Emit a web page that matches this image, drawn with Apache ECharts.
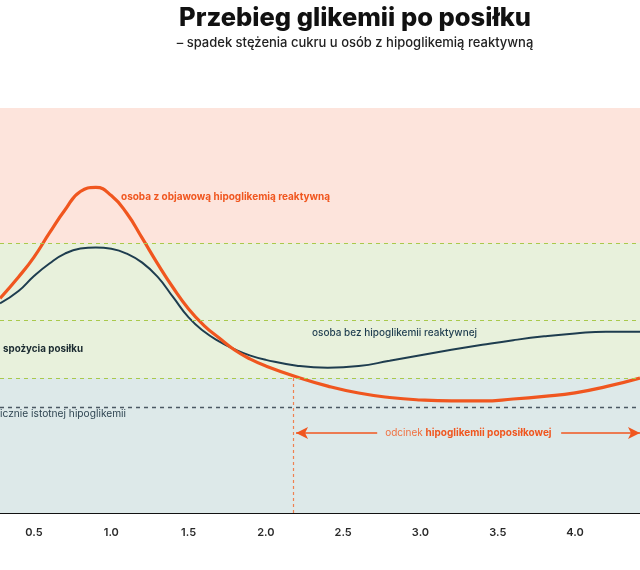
<!DOCTYPE html>
<html>
<head>
<meta charset="utf-8">
<script src="https://cdn.jsdelivr.net/npm/echarts@6/dist/echarts.min.js"></script>
<style>html,body{margin:0;padding:0;background:#fff}#c{width:640px;height:570px}</style>
</head>
<body>
<div id="c"></div>
<script>
// Time after meal (hours)
const timeHours       = [0.28, 0.4, 0.5, 0.6, 0.7, 0.8, 0.9, 1.0, 1.1, 1.2, 1.3, 1.4, 1.5, 1.6, 1.7, 1.8, 1.9, 2.0, 2.2, 2.4, 2.6, 2.8, 3.0, 3.2, 3.4, 3.6, 3.8, 4.0, 4.2, 4.42];
// Glucose (mg/dl) – person without reactive hypoglycaemia
const glucoseNormal   = [108.7, 115.1, 122.9, 129.4, 134.5, 137.1, 137.7, 137.0, 134.5, 129.8, 122.4, 111.9, 101.4, 94.1, 88.9, 84.8, 81.6, 79.4, 76.4, 75.3, 76.2, 78.9, 81.8, 84.6, 87.2, 89.6, 91.6, 93.1, 94.0, 94.0];
// Glucose (mg/dl) – person with symptomatic reactive hypoglycaemia
const glucoseReactive = [111.3, 122.4, 132.7, 145.2, 157.1, 166.7, 168.8, 164.6, 155.4, 142.5, 129.2, 116.8, 105.8, 97.2, 90.6, 84.4, 79.8, 76.2, 70.5, 65.8, 62.2, 59.9, 58.6, 58.1, 58.1, 59.1, 60.5, 62.3, 65.5, 70.0];
// x-axis tick labels
const tickValues = [0.5, 1.0, 1.5, 2.0, 2.5, 3.0, 3.5, 4.0];
// Zones and thresholds (mg/dl)
const zoneLimits = [0, 70, 140, 210];
const greenThresholds = [140, 100, 70];
const hypoThreshold = 55;
const hypoOnset = 2.18;
const arrowLevel = 41.5;
const arrowLeftEnd = [2.195, 2.72];
const arrowRightEnd = [3.91, 4.42];
const arrowTextX = 3.31;
const xRange = [0.28, 4.42];

const ORANGE = '#f0561f';
const NAVY = '#1e3d4f';
const FONT = 'Inter';

const pairs = (ys) => timeHours.map((x, i) => [x, ys[i]]);

const chart = echarts.init(document.getElementById('c'), null, {renderer: 'canvas'});
chart.setOption({
  animation: false,
  backgroundColor: '#fff',
  textStyle: {fontFamily: FONT},
  title: [
    {text: 'Przebieg glikemii po posiłku', left: 350, top: 0, textAlign: 'center',
     textStyle: {fontFamily: FONT, fontSize: 25.5, fontWeight: 800, color: '#111'}},
    {text: '– spadek stężenia cukru u osób z hipoglikemią reaktywną', left: 350, top: 32, textAlign: 'center',
     textStyle: {fontFamily: FONT, fontSize: 13, fontWeight: 500, color: '#222'}}
  ],
  grid: {left: 0, right: 0, top: 108, bottom: 57, containLabel: false},
  xAxis: {
    type: 'value', min: xRange[0], max: xRange[1],
    axisLine: {show: true, lineStyle: {color: '#111', width: 2}},
    axisTick: {show: false, customValues: tickValues}, splitLine: {show: false},
    axisLabel: {margin: 14, fontFamily: FONT, fontSize: 11, fontWeight: 600, color: '#2a2a2a',
      customValues: tickValues, formatter: v => v.toFixed(1)}
  },
  yAxis: {type: 'value', min: zoneLimits[0], max: zoneLimits[3], show: false, splitLine: {show: false}},
  series: [
    {
      type: 'line', name: 'bands', data: [], silent: true,
      markArea: {silent: true, data: [
        [{yAxis: zoneLimits[2], itemStyle: {color: '#fde4dc'}}, {yAxis: zoneLimits[3]}],
        [{yAxis: zoneLimits[1], itemStyle: {color: '#e8f1dc'}}, {yAxis: zoneLimits[2]}],
        [{yAxis: zoneLimits[0], itemStyle: {color: '#dde9e9'}}, {yAxis: zoneLimits[1]}]
      ]},
      markLine: {silent: true, symbol: 'none', label: {show: false}, data: [
        ...greenThresholds.map(v => ({yAxis: v, lineStyle: {color: '#a9c94c', type: [4, 4], width: 1.2}})),
        {yAxis: hypoThreshold, lineStyle: {color: '#4b5963', type: [4, 4], width: 1.3}}
      ]}
    },
    {
      type: 'line', name: 'osoba bez hipoglikemii reaktywnej', data: pairs(glucoseNormal),
      smooth: 0.5, showSymbol: false, lineStyle: {color: NAVY, width: 2}, z: 3
    },
    {
      type: 'line', name: 'osoba z objawową hipoglikemią reaktywną', data: pairs(glucoseReactive),
      smooth: 0.5, showSymbol: false, lineStyle: {color: ORANGE, width: 3.2}, z: 4,
      markLine: {silent: true, label: {show: false}, data: [
        [{coord: [hypoOnset, 70], symbol: 'none', lineStyle: {color: '#f08050', type: [3, 3], width: 1.2}},
         {coord: [hypoOnset, 0], symbol: 'none'}],
        [{coord: [arrowLeftEnd[0], arrowLevel], symbol: 'arrow', symbolSize: [9, 12], lineStyle: {color: ORANGE, type: 'solid', width: 1.5}},
         {coord: [arrowLeftEnd[1], arrowLevel], symbol: 'none'}],
        [{coord: [arrowRightEnd[0], arrowLevel], symbol: 'none', lineStyle: {color: ORANGE, type: 'solid', width: 1.5}},
         {coord: [arrowRightEnd[1], arrowLevel], symbol: 'arrow', symbolSize: [9, 12]}]
      ]},
      markPoint: {silent: true, symbol: 'circle', symbolSize: 0, data: [
        {coord: [arrowTextX, arrowLevel], label: {show: true, position: 'inside',
          formatter: '{a|odcinek }{b|hipoglikemii poposiłkowej}',
          rich: {a: {fontFamily: FONT, fontSize: 10, color: '#f07040'},
                 b: {fontFamily: FONT, fontSize: 10, fontWeight: 700, color: ORANGE}}}}
      ]}
    }
  ],
  graphic: [
    {type: 'text', z: 100, left: 121, top: 192, style: {text: 'osoba z objawową hipoglikemią reaktywną', font: '700 10px Inter', fill: ORANGE}},
    {type: 'text', z: 100, left: 312, top: 328, style: {text: 'osoba bez hipoglikemii reaktywnej', font: '500 10px Inter', fill: NAVY}},
    {type: 'text', z: 100, left: 3, top: 344, style: {text: 'spożycia posiłku', font: '700 9.8px Inter', fill: '#1a2a30'}},
    {type: 'text', z: 100, left: 0, top: 409, style: {text: 'icznie istotnej hipoglikemii', font: '400 10.2px Inter', fill: '#2f4552'}}
  ]
});
</script>
</body>
</html>
